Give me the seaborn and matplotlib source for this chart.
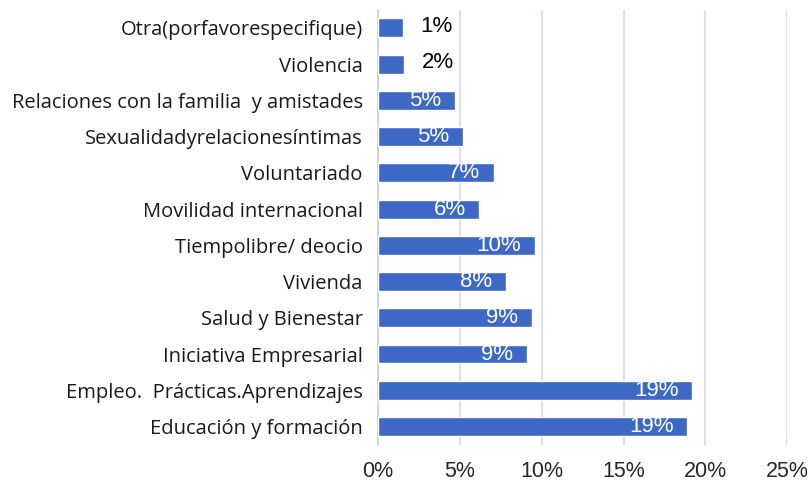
import matplotlib
matplotlib.use("Agg")
import matplotlib.pyplot as plt
import seaborn as sns
import pandas as pd

categorias = ["Otra(porfavorespecifique)", "Violencia",
              "Relaciones con la familia  y amistades",
              "Sexualidadyrelacionesíntimas", "Voluntariado",
              "Movilidad internacional", "Tiempolibre/ deocio", "Vivienda",
              "Salud y Bienestar", "Iniciativa Empresarial",
              "Empleo.  Prácticas.Aprendizajes", "Educación y formación"]
valores = [1.5, 1.6, 4.7, 5.2, 7.1, 6.2, 9.6, 7.8, 9.4, 9.1, 19.2, 18.9]
etiquetas = ["1%", "2%", "5%", "5%", "7%", "6%", "10%", "8%", "9%", "9%", "19%", "19%"]
ticks = [0, 5, 10, 15, 20, 25]

datos = pd.DataFrame({"tema": categorias, "pct": valores})

sns.set_style("white")
fig = plt.figure(figsize=(8.12, 4.86), dpi=100)
ax = fig.add_axes([0.4655, 0.085, 0.504, 0.895])

sns.barplot(data=datos, x="pct", y="tema", color="#3d68c6", width=0.52,
            saturation=1, ax=ax, zorder=3)

for i, (v, t) in enumerate(zip(valores, etiquetas)):
    if v < 3:
        ax.annotate(t, (v, i), xytext=(13, 1), textcoords="offset points",
                    ha="left", va="center", fontsize=16, color="black",
                    family="Liberation Sans")
    else:
        ax.annotate(t, (v, i), xytext=(-10, 0), textcoords="offset points",
                    ha="right", va="center", fontsize=16, color="white",
                    family="Liberation Sans")

ax.set_xlim(0, 25)
ax.set_xticks(ticks)
ax.set_xticklabels([f"{t}%" for t in ticks], family="Liberation Sans", fontsize=15.5)
ax.tick_params(axis="x", length=0, pad=12)
ax.tick_params(axis="y", length=0, pad=11, labelsize=14.5)
for lab in ax.get_yticklabels():
    lab.set_family("Open Sans")
    lab.set_color("#1a1a1a")
ax.grid(axis="x", color="#dde0ea", linewidth=1.6, zorder=0)
ax.set_xlabel("")
ax.set_ylabel("")
for s in ["top", "right", "bottom"]:
    ax.spines[s].set_visible(False)
ax.spines["left"].set_color("#c9d1e6")
ax.spines["left"].set_linewidth(1.2)

fig.savefig("out.png", dpi=100)
